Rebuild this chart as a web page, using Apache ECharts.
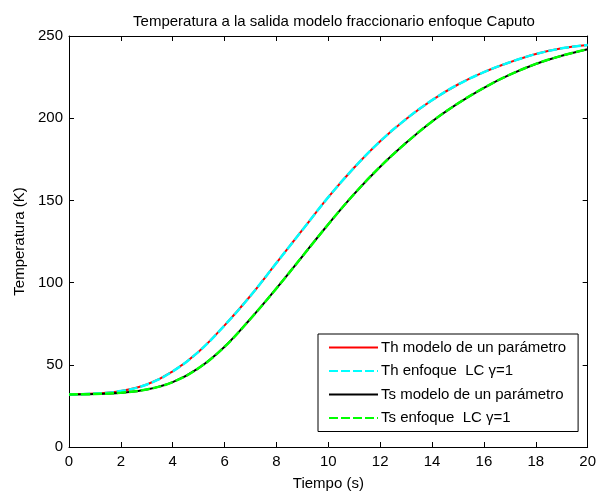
<!DOCTYPE html>
<html><head><meta charset="utf-8">
<script src="https://cdn.jsdelivr.net/npm/echarts@6/dist/echarts.min.js"></script>
<style>html,body{margin:0;padding:0;background:#fff}#c{width:599px;height:496px}</style>
</head><body><div id="c"></div>
<script>
var times = [0,1,2,3,4,5,6,7,8,9,10,11,12,13,14,15,16,17,18,19,20];
var thModel = [32,32.5,34,38,46,58,74,92,112,132,152,170,186,199.5,211,220.5,228,234,239,242.5,244.5];
var thLC    = [32,32.5,34,38,46,58,74,92,112,132,152,170,186,199.5,211,220.5,228,234,239,242.5,244.5];
var tsModel = [32,32.2,33,35,39.5,48,61,78,96.5,116,135.5,154,170.5,185,198,209,218.5,226.5,233,238,242];
var tsLC    = [32,32.2,33,35,39.5,48,61,78,96.5,116,135.5,154,170.5,185,198,209,218.5,226.5,233,238,242];
var seriesNames = ['Th modelo de un parámetro','Th enfoque  LC \u03b3=1','Ts modelo de un parámetro','Ts enfoque  LC \u03b3=1'];
var xTicks = [0,2,4,6,8,10,12,14,16,18,20];
var yTicks = [0,50,100,150,200,250];

function pairs(v){return times.map(function(t,i){return [t,v[i]];});}
var font = 'Liberation Sans, Arial, sans-serif';
var fs = 15;
var chart = echarts.init(document.getElementById('c'));
var axisCommon = {
  axisLine:{show:true,onZero:false,lineStyle:{color:'#000',width:1}},
  axisTick:{show:true,inside:true,length:5,lineStyle:{color:'#000'}},
  splitLine:{show:false}
};
function lineSeries(i,data,color,dashed){
  return {name:seriesNames[i],type:'line',data:pairs(data),smooth:0.4,showSymbol:false,symbol:'none',
    lineStyle:{color:color,width:dashed?2.5:2,type:dashed?[9,3]:'solid'},itemStyle:{color:color},z:dashed?3:2};
}
chart.setOption({
  animation:false,
  backgroundColor:'#fff',
  title:{text:'Temperatura a la salida modelo fraccionario enfoque Caputo',left:329,textAlign:'center',top:9,
    textStyle:{fontFamily:font,fontSize:fs,fontWeight:'normal',color:'#000'}},
  grid:{left:69,right:10,top:36,bottom:49},
  legend:{orient:'vertical',left:318,top:334,padding:[6,12,6,10],itemGap:8.5,
    borderColor:'#000',borderWidth:1,backgroundColor:'#fff',itemWidth:49,itemHeight:14,
    itemStyle:{opacity:0,borderWidth:0},
    textStyle:{fontFamily:font,fontSize:fs,color:'#000',padding:[0,0,0,-2]},
    data:seriesNames},
  xAxis:[
    Object.assign({type:'value',min:0,max:20,interval:2,position:'bottom',name:'Tiempo (s)',nameLocation:'middle',nameGap:29,
      nameTextStyle:{fontFamily:font,fontSize:fs,color:'#000'},
      axisLabel:{fontFamily:font,fontSize:fs,color:'#000',margin:7,formatter:function(v){return xTicks.indexOf(v)>=0?String(v):'';}}},axisCommon),
    Object.assign({type:'value',min:0,max:20,interval:2,position:'top',axisLabel:{show:false}},axisCommon)
  ],
  yAxis:[
    Object.assign({type:'value',min:0,max:250,interval:50,position:'left',name:'Temperatura (K)',nameLocation:'middle',nameGap:38,
      nameTextStyle:{fontFamily:font,fontSize:fs,color:'#000'},
      axisLabel:{fontFamily:font,fontSize:fs,color:'#000',margin:6,formatter:function(v){return yTicks.indexOf(v)>=0?String(v):'';}}},axisCommon),
    Object.assign({type:'value',min:0,max:250,interval:50,position:'right',axisLabel:{show:false}},axisCommon)
  ],
  series:[
    lineSeries(0,thModel,'#ff0000',false),
    lineSeries(1,thLC,'#00ffff',true),
    lineSeries(2,tsModel,'#000000',false),
    lineSeries(3,tsLC,'#00ff00',true)
  ]
});
</script></body></html>
